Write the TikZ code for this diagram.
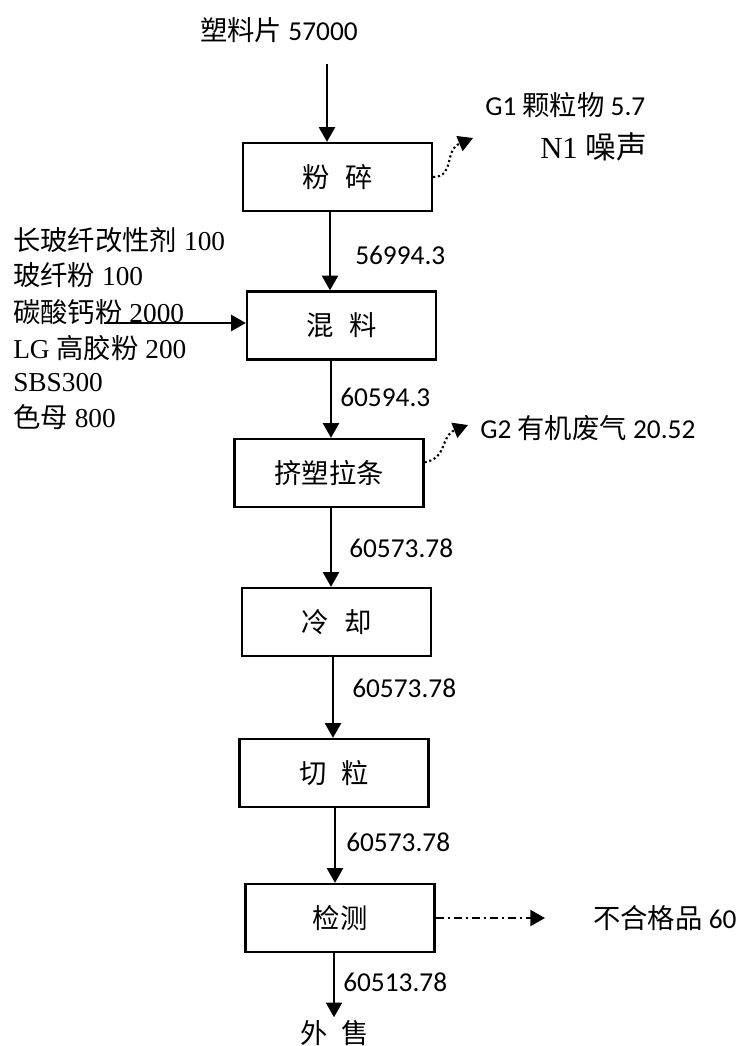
\documentclass[tikz,border=0pt]{standalone}
\usepackage{fontspec}
\setmainfont{Liberation Serif}
\newfontfamily\cjkfont{Noto Sans CJK SC}
\newfontfamily\numfont{Carlito}
\newcommand\zh[1]{{\cjkfont #1}}
\usetikzlibrary{arrows.meta}

\begin{document}
\begin{tikzpicture}[x=0.75pt,y=-0.75pt,
  proc/.style={draw,line width=1.7pt,minimum width=141.75pt,minimum height=51pt,
    inner sep=0pt,font=\cjkfont\fontsize{20.5}{24}\selectfont},
  lbl/.style={inner sep=0pt,font=\numfont\fontsize{20.5}{24}\selectfont},
  mat/.style={inner sep=0pt,font=\fontsize{20.5}{24}\selectfont},
  flow/.style={line width=1.6pt,-{Triangle[length=11pt,width=12pt]}},
  emit/.style={flow,dotted},
  reject/.style={flow,dash pattern=on 6pt off 3pt on 1.5pt off 3pt}]
  \useasboundingbox (0,0) rectangle (749,1046);
  % process chain
  \node[proc] (crush)   at (337.5,177) {粉\hspace{0.55em}碎};
  \node[proc] (mix)     at (341.5,325.5) {混\hspace{0.55em}料};
  \node[proc] (extrude) at (329,473) {挤塑拉条};
  \node[proc] (cool)    at (336.5,622) {冷\hspace{0.55em}却};
  \node[proc] (cut)     at (334,773) {切\hspace{0.55em}粒};
  \node[proc] (test)    at (340,918) {检测};
  \node[proc,draw=none,minimum width=0pt,minimum height=0pt,inner sep=1.5pt] (sale) at (335,1033) {外\hspace{0.5em}售};
  % raw material and additives
  \node[lbl] (feed) at (279,30) {\zh{塑料片} 57000};
  \foreach \y/\t [count=\i] in {240/{\zh{长玻纤改性剂} 100}, 275/{\zh{玻纤粉} 100},
      312/{\zh{碳酸钙粉} 2000}, 348/{LG \zh{高胶粉} 200}, 383/{SBS300}, 417/{\zh{色母} 800}}
    \node[mat,anchor=west] (add\i) at (13,\y) {\t};
  % main flow
  \coordinate (feedout) at (327,64);
  \draw[flow] (feedout) -- (feedout |- crush.north);
  \draw[flow] (crush.south -| 330,0) -- (mix.north -| 330,0);
  \draw[flow] (mix.south -| 331,0) -- (extrude.north -| 331,0);
  \draw[flow] (extrude.south -| 331,0) -- (cool.north -| 331,0);
  \draw[flow] (cool.south -| 333,0) -- (cut.north -| 333,0);
  \draw[flow] (cut.south -| 335,0) -- (test.north -| 335,0);
  \draw[flow] (test.south -| 334,0) -- (sale.north -| 334,0);
  \foreach \x/\y/\t [count=\i] in {355/255/56994.3, 340/397/60594.3, 349/548/60573.78,
      352/688/60573.78, 346/842/60573.78, 343/982/60513.78}
    \node[lbl,anchor=west] (m\i) at (\x,\y) {\t};
  % additives in
  \coordinate (addin) at (104,323);
  \draw[flow] (addin) -- (addin -| mix.west);
  % emissions
  \coordinate (g1) at (473,138);
  \coordinate (g2) at (468,425);
  \coordinate (rej) at (545,918);
  \draw[emit] (crush.east) .. controls (455,177) and (444,150) .. (g1);
  \draw[emit] ([yshift=8pt]extrude.east) .. controls (448,458) and (440,436) .. (g2);
  \draw[reject] (test.east) -- (rej);
  \node[lbl,anchor=west] (g1txt) at (485,105) {G1 \zh{颗粒物} 5.7};
  \node[mat,anchor=east,font=\fontsize{23}{26}\selectfont] (n1txt) at (647,147) {N1 \zh{噪声}};
  \node[lbl,anchor=west] (g2txt) at (480,428) {G2 \zh{有机废气} 20.52};
  \node[lbl,anchor=west] (rejtxt) at (593,918) {\zh{不合格品} 60};
\end{tikzpicture}
\end{document}
